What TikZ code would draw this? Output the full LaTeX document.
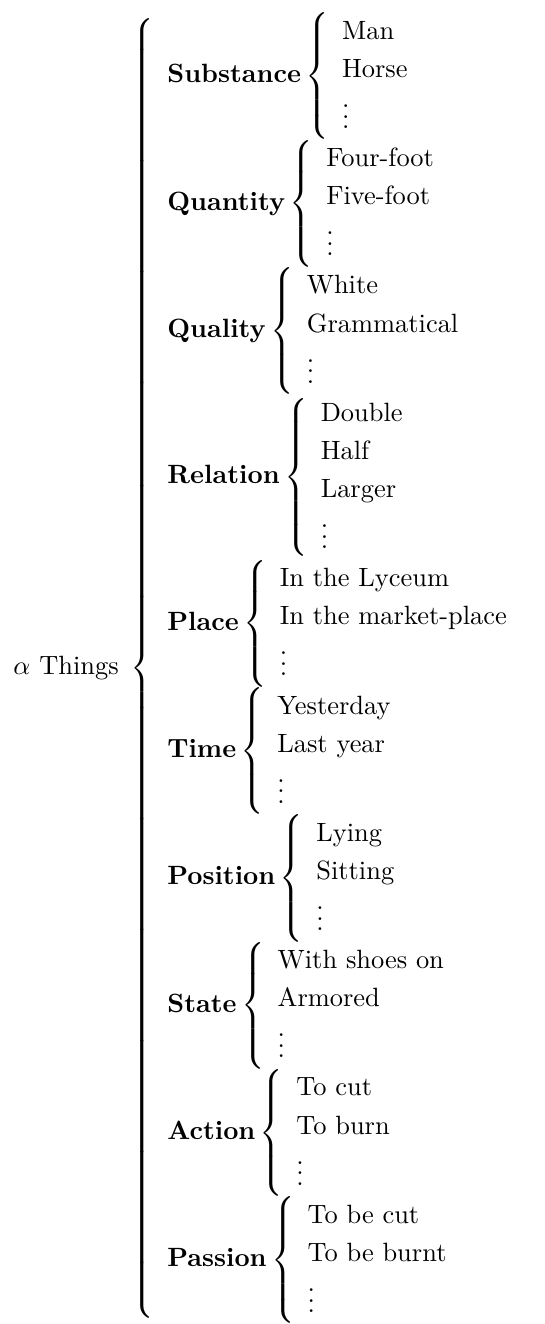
\documentclass[tikz,border=0pt]{standalone}
\newcommand{\grp}[2]{\mbox{\textbf{#1}}\left\{\begin{array}{l}#2\end{array}\right.}
\newcommand{\tx}[1]{\mbox{#1}}
\renewcommand{\arraystretch}{1.2}
\begin{document}
\begin{tikzpicture}
\node[inner sep=0pt] (tree) {$\alpha$ Things\kern1.2pt{} $\left\{\begin{array}{l}
\grp{Substance}{\tx{Man}\\ \tx{Horse}\\ \vdots}\\
\grp{Quantity}{\tx{Four-foot}\\ \tx{Five-foot}\\ \vdots}\\
\grp{Quality}{\tx{White}\\ \tx{Grammatical}\\ \vdots}\\
\grp{Relation}{\tx{Double}\\ \tx{Half}\\ \tx{Larger}\\ \vdots}\\
\grp{Place}{\tx{In the Lyceum}\\ \tx{In the market-place}\\ \vdots}\\
\grp{Time}{\tx{Yesterday}\\ \tx{Last year}\\ \vdots}\\
\grp{Position}{\tx{Lying}\\ \tx{Sitting}\\ \vdots}\\
\grp{State}{\tx{With shoes on}\\ \tx{Armored}\\ \vdots}\\
\grp{Action}{\tx{To cut}\\ \tx{To burn}\\ \vdots}\\
\grp{Passion}{\tx{To be cut}\\ \tx{To be burnt}\\ \vdots}
\end{array}\right.$};
\useasboundingbox ([shift={(-4.9pt,7.2pt)}]tree.south west) rectangle ([shift={(1.5pt,4.6pt)}]tree.north east);
\end{tikzpicture}
\end{document}
